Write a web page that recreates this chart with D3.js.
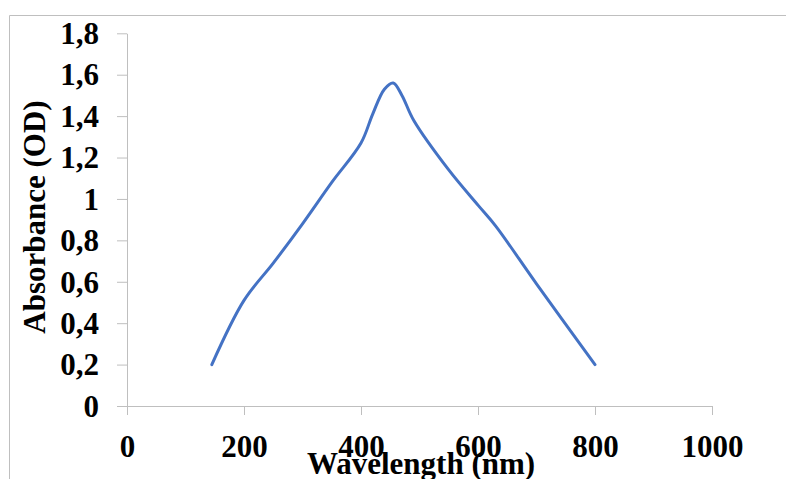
<!DOCTYPE html>
<html>
<head>
<meta charset="utf-8">
<script src="https://cdn.jsdelivr.net/npm/d3@7"></script>
<style>
  body { margin: 0; background: #fff; }
  svg { display: block; }
  .tick text { font-family: "Liberation Serif", "Times New Roman", serif; font-weight: bold; font-size: 31px; fill: #000; }
  .title { font-family: "Liberation Serif", "Times New Roman", serif; font-weight: bold; font-size: 31px; fill: #000; }
</style>
</head>
<body>
<svg id="chart"></svg>
<script>
// wavelength (nm) and absorbance (OD)
let wavelength = [145, 200, 250, 300, 350, 400, 420, 440, 455, 470, 490, 550, 600, 630, 700, 800];
let absorbance = [0.20, 0.51, 0.69, 0.88, 1.08, 1.27, 1.41, 1.53, 1.56, 1.50, 1.38, 1.14, 0.97, 0.87, 0.59, 0.20];
let xTicks = [0, 200, 400, 600, 800, 1000];
let yTicks = [0, 0.2, 0.4, 0.6, 0.8, 1, 1.2, 1.4, 1.6, 1.8];

let w = 786;
let h = 479;
let axisColor = "#bfbfbf";

let svg = d3.select("#chart")
            .attr("width", w)
            .attr("height", h);

let values = wavelength.map((d, i) => ({ x: d, y: absorbance[i] }));

// outer frame (cut off at right and bottom)
svg.append("path")
   .attr("d", `M9.5,${h} V15.5 H${w}`)
   .attr("fill", "none")
   .attr("stroke", axisColor)
   .attr("stroke-width", 1);

let xScale = d3.scaleLinear()
               .domain([0, 1000])
               .range([127, 712]);

let yScale = d3.scaleLinear()
               .domain([0, 1.8])
               .range([406, 33.3]);

let fmt = (d) => String(+d.toFixed(1)).replace(".", ",");

let xAxis = d3.axisBottom(xScale)
              .tickValues(xTicks)
              .tickSize(9)
              .tickSizeOuter(0)
              .tickPadding(20)
              .tickFormat((d) => d);

let yAxis = d3.axisLeft(yScale)
              .tickValues(yTicks)
              .tickSize(10)
              .tickSizeOuter(0)
              .tickPadding(18)
              .tickFormat(fmt);

let gx = svg.append("g")
   .attr("transform", `translate(0, ${yScale(0)})`)
   .call(xAxis);

let gy = svg.append("g")
   .attr("transform", `translate(${xScale(0)}, 0)`)
   .call(yAxis);

[gx, gy].forEach((g) => {
  g.select(".domain").attr("stroke", axisColor);
  g.selectAll(".tick line").attr("stroke", axisColor);
});
gx.selectAll(".tick text").attr("dy", "0.71em");
gy.selectAll(".tick text").attr("dy", "0.33em");

let line = d3.line()
             .x((d) => xScale(d.x))
             .y((d) => yScale(d.y))
             .curve(d3.curveCatmullRom.alpha(0.5));

svg.append("path")
   .datum(values)
   .attr("d", line)
   .attr("fill", "none")
   .attr("stroke", "#4472c4")
   .attr("stroke-width", 3)
   .attr("stroke-linecap", "round");

svg.append("text")
   .attr("class", "title")
   .attr("x", 421)
   .attr("y", 474)
   .attr("text-anchor", "middle")
   .text("Wavelength (nm)");

svg.append("text")
   .attr("class", "title")
   .attr("transform", "translate(45, 217) rotate(-90)")
   .attr("text-anchor", "middle")
   .text("Absorbance (OD)");
</script>
</body>
</html>
